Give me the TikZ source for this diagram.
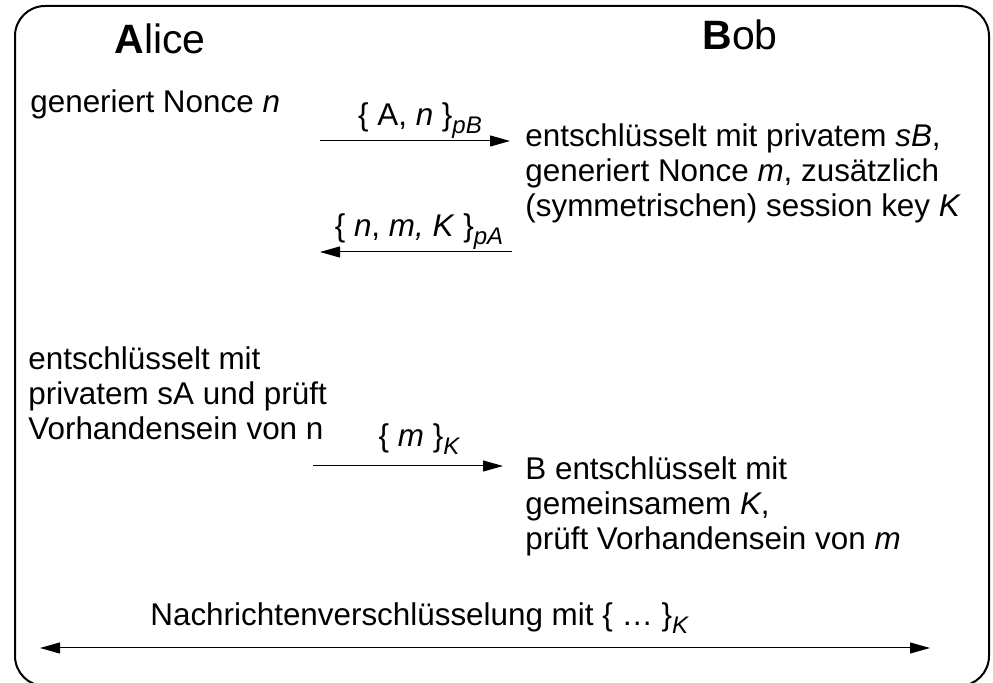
\documentclass[tikz,border=0pt]{standalone}
\usepackage{fontspec}
\setmainfont{Liberation Sans}
\usetikzlibrary{arrows.meta, positioning}
\newcommand{\keysub}[1]{\raisebox{-4pt}{\fontsize{12}{14}\selectfont\itshape #1}}

\begin{document}
\begin{tikzpicture}[x=0.5pt, y=-0.5pt,
    txt/.style={anchor=base west, inner sep=0pt, align=left, font=\fontsize{15.7}{17.5}\selectfont},
    msg/.style={anchor=base, inner sep=0pt, font=\fontsize{15.7}{17.5}\selectfont},
    party/.style={anchor=base, inner sep=0pt, font=\fontsize{20.5}{24}\selectfont},
    arr/.style={line width=0.5pt, -{Triangle[length=10pt, width=5.5pt]}}]
  \useasboundingbox (0,0) rectangle (993,683);
  \draw[line width=1pt, rounded corners=15pt] (15,6) rectangle (989,686);

  % Teilnehmer
  \node[party] (alice) at (160,54) {\textbf{A}lice};
  \node[party] (bob) at (740,50) {\textbf{B}ob};

  % Nachricht 1 (Basislinie mehrzeiliger Knoten = letzte Zeile)
  \node[txt] (a1) at (30,113) {generiert Nonce \textit{n}};
  \coordinate (m1s) at (320,141);
  \coordinate (m1e) at (510,141);
  \draw[arr] (m1s) -- (m1e);
  \node[msg] (m1) at (420,126) {\{ A, \textit{n} \}\keysub{pB}};
  \node[txt] (b1) at (525,217) {entschlüsselt mit privatem \textit{sB},\\
    generiert Nonce \textit{m}, zusätzlich\\
    (symmetrischen) session key \textit{K}};

  % Nachricht 2
  \coordinate (m2s) at (512,252);
  \coordinate (m2e) at (320,252);
  \draw[arr] (m2s) -- (m2e);
  \node[msg] (m2) at (419,237) {\{ \textit{n}, \textit{m, K} \}\keysub{pA}};

  % Nachricht 3
  \node[txt] (a2) at (28,440) {entschlüsselt mit\\
    privatem sA und prüft\\
    Vorhandensein von n};
  \coordinate (m3s) at (313,466);
  \coordinate (m3e) at (503,466);
  \draw[arr] (m3s) -- (m3e);
  \node[msg] (m3) at (419,447) {\{ \textit{m} \}\keysub{K}};
  \node[txt] (b2) at (525,550) {B entschlüsselt mit\\
    gemeinsamem \textit{K},\\
    prüft Vorhandensein von \textit{m}};

  % Sitzung
  \node[txt] (sess) at (150,626) {Nachrichtenverschlüsselung mit \{ … \}\keysub{K}};
  \coordinate (sl) at (40,648);
  \coordinate (sr) at (930,648);
  \draw[line width=0.5pt, {Triangle[length=10pt, width=5.5pt]}-{Triangle[length=10pt, width=5.5pt]}] (sl) -- (sr);
\end{tikzpicture}
\end{document}
